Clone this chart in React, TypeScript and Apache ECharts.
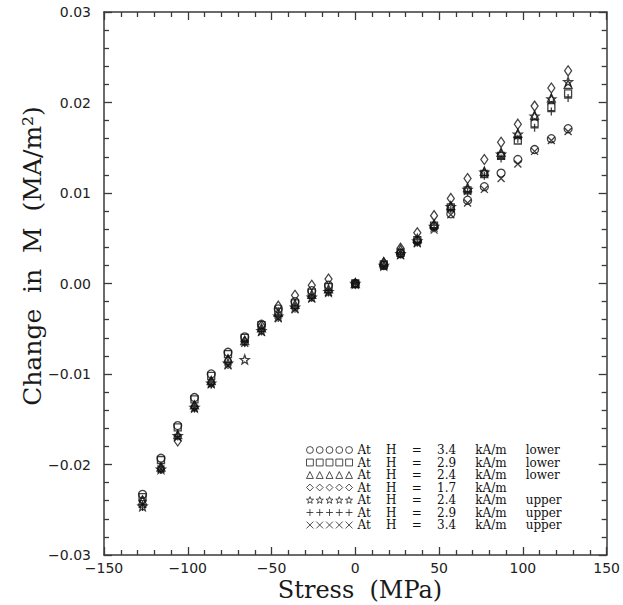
import React, { useEffect, useRef } from "react";
import * as echarts from "echarts";

const stress = [-127, -116, -106, -96, -86, -76, -66, -56, -46, -36, -26, -16, 0, 17, 27, 37, 47, 57, 67, 77, 87, 97, 107, 117, 127];

const h34Lower = [-0.0233, -0.0193, -0.0157, -0.0126, -0.0100, -0.0076, -0.0059, -0.0045, -0.0028, -0.0020, -0.0008, -0.0002, 0, 0.0020, 0.0033, 0.0047, 0.0063, 0.0077, 0.0092, 0.0107, 0.0122, 0.0137, 0.0148, 0.0160, 0.0171];
const h29Lower = [-0.0236, -0.0195, -0.0159, -0.0128, -0.0102, -0.0078, -0.0060, -0.0046, -0.0031, -0.0022, -0.0010, -0.0004, 0, 0.0021, 0.0034, 0.0048, 0.0064, 0.0084, 0.0103, 0.0121, 0.0141, 0.0158, 0.0177, 0.0195, 0.0210];
const h24Lower = [-0.0240, -0.0203, -0.0167, -0.0134, -0.0107, -0.0083, -0.0063, -0.0049, -0.0032, -0.0023, -0.0012, -0.0006, 0, 0.0024, 0.0038, 0.0050, 0.0066, 0.0086, 0.0106, 0.0124, 0.0145, 0.0166, 0.0186, 0.0205, 0.0220];
const h17 = [-0.0240, -0.0204, -0.0174, -0.0136, -0.0109, -0.0085, -0.0064, -0.0047, -0.0025, -0.0013, -0.0002, 0.0005, 0, 0.0023, 0.0039, 0.0056, 0.0075, 0.0094, 0.0116, 0.0137, 0.0156, 0.0176, 0.0196, 0.0216, 0.0235];
const h24Upper = [-0.0246, -0.0205, -0.0168, -0.0137, -0.0110, -0.0088, -0.0084, -0.0052, -0.0036, -0.0026, -0.0015, -0.0009, 0, 0.0020, 0.0033, 0.0047, 0.0063, 0.0085, 0.0104, 0.0123, 0.0143, 0.0165, 0.0185, 0.0204, 0.0223];
const h29Upper = [-0.0247, -0.0206, -0.0169, -0.0138, -0.0112, -0.0090, -0.0065, -0.0053, -0.0038, -0.0028, -0.0016, -0.0010, 0, 0.0019, 0.0032, 0.0045, 0.0061, 0.0082, 0.0101, 0.0119, 0.0138, 0.0160, 0.0172, 0.0190, 0.0205];
const h34Upper = [-0.0244, -0.0205, -0.0170, -0.0138, -0.0111, -0.0091, -0.0066, -0.0054, -0.0039, -0.0029, -0.0017, -0.0010, 0, 0.0019, 0.0031, 0.0044, 0.0059, 0.0076, 0.0089, 0.0104, 0.0116, 0.0132, 0.0146, 0.0158, 0.0168];

const seriesNames = [
  "At    H    =    3.4     kA/m     lower",
  "At    H    =    2.9     kA/m     lower",
  "At    H    =    2.4     kA/m     lower",
  "At    H    =    1.7     kA/m",
  "At    H    =    2.4     kA/m     upper",
  "At    H    =    2.9     kA/m     upper",
  "At    H    =    3.4     kA/m     upper",
];
const seriesValues = [h34Lower, h29Lower, h24Lower, h17, h24Upper, h29Upper, h34Upper];

const xTitle = "Stress  (MPa)";
const yTitle = "Change  in  M  (MA/m²)";

function starPoints(cx: number, cy: number, R: number, r: number): string {
  let d = "";
  for (let k = 0; k < 10; k++) {
    const rad = k % 2 === 0 ? R : r;
    const a = -Math.PI / 2 + (k * Math.PI) / 5;
    const px = cx + rad * Math.cos(a);
    const py = cy + rad * Math.sin(a);
    d += (k === 0 ? "M" : "L") + px.toFixed(2) + "," + py.toFixed(2);
  }
  return d + "Z";
}

const shapeFns: ((cx: number) => string)[] = [
  (cx) => `M${cx - 3.5},5A3.5,3.5 0 1,0 ${cx + 3.5},5A3.5,3.5 0 1,0 ${cx - 3.5},5Z`,
  (cx) => `M${cx - 3.5},1.5L${cx + 3.5},1.5L${cx + 3.5},8.5L${cx - 3.5},8.5Z`,
  (cx) => `M${cx},1.5L${cx + 3.5},8.5L${cx - 3.5},8.5Z`,
  (cx) => `M${cx},1.5L${cx + 3.5},5L${cx},8.5L${cx - 3.5},5Z`,
  (cx) => starPoints(cx, 5.4, 3.8, 1.6),
  (cx) => `M${cx - 3.5},5L${cx + 3.5},5M${cx},1.5L${cx},8.5`,
  (cx) => `M${cx - 3.5},1.5L${cx + 3.5},8.5M${cx + 3.5},1.5L${cx - 3.5},8.5`,
];

function legendIcon(i: number): string {
  let d = "";
  for (let k = 0; k < 5; k++) d += shapeFns[i](5 + 10 * k);
  return "path://" + d;
}

const seriesSymbols: string[] = [
  "circle",
  "rect",
  "triangle",
  "diamond",
  "path://" + starPoints(5, 5, 5, 2.1),
  "path://M0,5L10,5M5,0L5,10",
  "path://M0,0L10,10M10,0L0,10",
];
const seriesSizes: (number | number[])[] = [8, 7, 8, [7, 10], 9, 8, 7];

const fmtX = (v: number) => (v < 0 ? "\u2212" + Math.abs(v) : String(v));
const fmtY = (v: number) => {
  if (Math.abs(v) < 1e-9) return "0.00";
  const s = Math.abs(v).toFixed(2);
  return v < 0 ? "\u2212" + s : s;
};

export default function App() {
  const ref = useRef<HTMLDivElement>(null);
  useEffect(() => {
    if (!ref.current) return;
    const chart = echarts.init(ref.current, undefined, { renderer: "svg" });
    const axisLine = { show: true, onZero: false, lineStyle: { color: "#3a3a3a", width: 1.5 } };
    const tickStyle = { color: "#3a3a3a", width: 1.3 };
    const xBase = {
      type: "value",
      min: -150,
      max: 150,
      interval: 50,
      splitLine: { show: false },
      axisLine,
      axisTick: { inside: true, length: 8, lineStyle: tickStyle },
      minorTick: { show: true, splitNumber: 5, length: 5, lineStyle: tickStyle },
    };
    const yBase = {
      type: "value",
      min: -0.03,
      max: 0.03,
      interval: 0.01,
      splitLine: { show: false },
      axisLine,
      axisTick: { inside: true, length: 8, lineStyle: tickStyle },
      minorTick: { show: true, splitNumber: 5, length: 5, lineStyle: tickStyle },
    };
    const labelFont = { fontFamily: "DejaVu Sans", fontSize: 14, color: "#222" };
    const legends = seriesNames.map((name, i) => ({
      orient: "vertical",
      left: 306,
      top: 444 + i * 12.5,
      padding: 0,
      itemWidth: 46,
      itemHeight: 7,
      selectedMode: false,
      textStyle: { fontFamily: "DejaVu Serif", fontSize: 12, lineHeight: 12, color: "#111" },
      data: [
        {
          name,
          icon: legendIcon(i),
          itemStyle: { color: "rgba(0,0,0,0)", borderColor: "#222", borderWidth: 1 },
        },
      ],
    }));
    chart.setOption({
      animation: false,
      backgroundColor: "#ffffff",
      grid: { left: 104, right: 16, top: 12, bottom: 50 },
      xAxis: [
        { ...xBase, position: "bottom", axisLabel: { ...labelFont, margin: 6, formatter: fmtX } },
        { ...xBase, position: "top", axisLabel: { show: false } },
      ],
      yAxis: [
        { ...yBase, position: "left", axisLabel: { ...labelFont, margin: 13, formatter: fmtY } },
        { ...yBase, position: "right", axisLabel: { show: false } },
      ],
      legend: legends,
      graphic: [
        {
          type: "text",
          x: 360,
          y: 590,
          style: {
            text: xTitle,
            font: "24px 'DejaVu Serif'",
            fill: "#1a1a1a",
            textAlign: "center",
            textVerticalAlign: "middle",
          },
        },
        {
          type: "text",
          x: 32,
          y: 256,
          rotation: Math.PI / 2,
          style: {
            text: yTitle,
            font: "25px 'DejaVu Serif'",
            fill: "#1a1a1a",
            textAlign: "center",
            textVerticalAlign: "middle",
          },
        },
      ],
      series: seriesNames.map((name, i) => ({
        name,
        type: "scatter",
        xAxisIndex: 0,
        yAxisIndex: 0,
        symbol: seriesSymbols[i],
        symbolSize: seriesSizes[i],
        itemStyle: { color: "rgba(0,0,0,0)", borderColor: "#111", borderWidth: 1.3 },
        emphasis: { disabled: true },
        data: stress.map((s, k) => [s, seriesValues[i][k]]),
      })),
    });
    return () => chart.dispose();
  }, []);
  return (
    <div
      ref={ref}
      style={{ position: "fixed", left: 0, top: 0, width: 623, height: 605, background: "#fff" }}
    />
  );
}
